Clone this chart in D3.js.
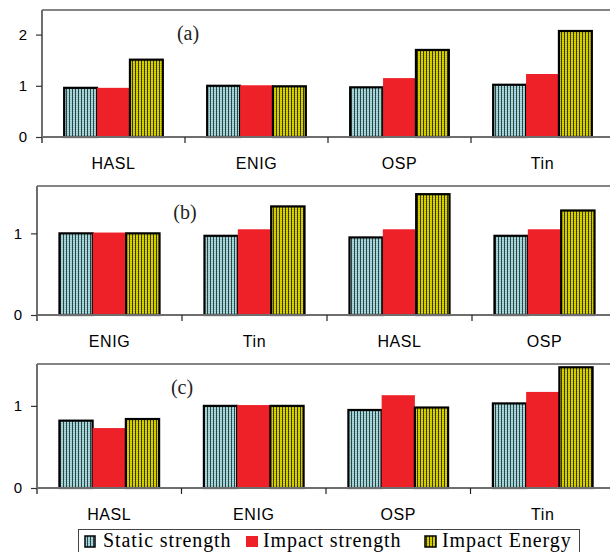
<!DOCTYPE html>
<html>
<head>
<meta charset="utf-8">
<script src="https://cdn.jsdelivr.net/npm/d3@7"></script>
<style>
  html, body { margin: 0; padding: 0; background: #fff; }
  svg { display: block; }
</style>
</head>
<body>
<div id="chart"></div>
<script>
// Series names
const seriesNames = ["Static strength", "Impact strength", "Impact Energy"];

// Panel (a)
const catsA = ["HASL", "ENIG", "OSP", "Tin"];
const staticA = [0.96, 1.00, 0.97, 1.02];
const impactA = [0.96, 1.01, 1.15, 1.23];
const energyA = [1.51, 0.99, 1.70, 2.07];
const ticksA = [0, 1, 2];

// Panel (b)
const catsB = ["ENIG", "Tin", "HASL", "OSP"];
const staticB = [1.00, 0.97, 0.95, 0.97];
const impactB = [1.01, 1.05, 1.05, 1.05];
const energyB = [1.00, 1.33, 1.48, 1.28];
const ticksB = [0, 1];

// Panel (c)
const catsC = ["HASL", "ENIG", "OSP", "Tin"];
const staticC = [0.82, 1.00, 0.95, 1.03];
const impactC = [0.73, 1.01, 1.13, 1.17];
const energyC = [0.84, 1.00, 0.98, 1.47];
const ticksC = [0, 1];

const W = 610, H = 552;
const svg = d3.select("#chart").append("svg")
  .attr("width", W).attr("height", H);

// Striped fills for the outlined bars
const defs = svg.append("defs");
function stripes(id, bg, fg) {
  const p = defs.append("pattern").attr("id", id)
    .attr("patternUnits", "userSpaceOnUse")
    .attr("width", 3).attr("height", 2);
  p.append("rect").attr("width", 3).attr("height", 2).attr("fill", bg);
  p.append("rect").attr("x", 0).attr("width", 1).attr("height", 2).attr("fill", fg);
  p.append("rect").attr("x", 1).attr("y", 1).attr("width", 2).attr("height", 1)
    .attr("fill", fg).attr("opacity", 0.15);
}
stripes("patStatic", "#a9dde0", "#2c4446");
stripes("patEnergy", "#dcd800", "#3a3800");

const fills = ["url(#patStatic)", "#ee2129", "url(#patEnergy)"];
const strokes = ["#000", "none", "#000"];

function panel(cfg) {
  const { cats, series, ticks, yMax, left, right, top, base, label, labelX, labelY } = cfg;
  const g = svg.append("g");

  const x = d3.scaleBand().domain(cats).range([left, right]).padding(0);
  const xs = d3.scaleBand().domain([0, 1, 2])
    .range([x.bandwidth() * 0.155, x.bandwidth() * 0.845]).padding(0);
  const y = d3.scaleLinear().domain([0, yMax]).range([base, top]);

  // frame: top line
  g.append("line").attr("x1", left).attr("x2", W).attr("y1", top).attr("y2", top)
    .attr("stroke", "#858585").attr("stroke-width", 2);

  // bars: static, impact, energy
  const rows = cats.map((c, i) => ({ cat: c, vals: series.map(s => s[i]) }));
  [0, 1, 2].forEach(k => {
    g.selectAll(null).data(rows).enter().append("rect")
      .attr("x", d => x(d.cat) + xs(k))
      .attr("y", d => y(d.vals[k]))
      .attr("width", xs.bandwidth())
      .attr("height", d => y(0) - y(d.vals[k]))
      .attr("fill", fills[k])
      .attr("stroke", strokes[k])
      .attr("stroke-width", 2.2);
  });

  // y axis
  const yAxis = d3.axisLeft(y).tickValues(ticks).tickFormat(d3.format("d"))
    .tickSize(6).tickPadding(9);
  const ya = g.append("g").attr("transform", `translate(${left},0)`).call(yAxis);
  ya.select(".domain").attr("d", `M0,${top}V${base + 6}`)
    .attr("stroke", "#6e6e6e").attr("stroke-width", 2);
  ya.selectAll(".tick line").attr("stroke", "#333").attr("stroke-width", 1.2);
  ya.selectAll("text").attr("font-family", "Liberation Sans, Arial, sans-serif")
    .attr("font-size", 15).attr("fill", "#000");

  // x axis with ticks on category boundaries
  g.append("line").attr("x1", left).attr("x2", W).attr("y1", base).attr("y2", base)
    .attr("stroke", "#6e6e6e").attr("stroke-width", 2);
  g.selectAll(null).data(cats.slice(1)).enter().append("line")
    .attr("x1", d => x(d)).attr("x2", d => x(d))
    .attr("y1", base).attr("y2", base + 6)
    .attr("stroke", "#222").attr("stroke-width", 1.2);
  g.selectAll(null).data(cats).enter().append("text")
    .attr("x", d => x(d) + x.bandwidth() / 2)
    .attr("y", base + 32)
    .attr("text-anchor", "middle")
    .attr("font-family", "Liberation Sans, Arial, sans-serif")
    .attr("font-size", 16).attr("letter-spacing", 0.6)
    .text(d => d);

  g.append("text").attr("x", labelX).attr("y", labelY)
    .attr("text-anchor", "middle")
    .attr("font-family", "Liberation Serif, Times New Roman, serif")
    .attr("font-size", 20).attr("fill", "#222")
    .text(label);
}

panel({ cats: catsA, series: [staticA, impactA, energyA], ticks: ticksA, yMax: 2.48,
  left: 42, right: 614, top: 10, base: 137, label: "(a)", labelX: 188, labelY: 40 });
panel({ cats: catsB, series: [staticB, impactB, energyB], ticks: ticksB, yMax: 1.58,
  left: 37, right: 617, top: 186, base: 315, label: "(b)", labelX: 185, labelY: 219 });
panel({ cats: catsC, series: [staticC, impactC, energyC], ticks: ticksC, yMax: 1.51,
  left: 37, right: 615, top: 364, base: 488, label: "(c)", labelX: 182, labelY: 394 });

// Legend
const lg = svg.append("g");
lg.append("rect").attr("x", 78.5).attr("y", 529.5).attr("width", 501).attr("height", 40)
  .attr("fill", "#fff").attr("stroke", "#444").attr("stroke-width", 1);
const legendItems = [
  { name: seriesNames[0], sx: 85, sw: 10, tx: 103 },
  { name: seriesNames[1], sx: 246, sw: 12, tx: 263 },
  { name: seriesNames[2], sx: 425, sw: 11, tx: 442 }
];
legendItems.forEach((it, i) => {
  lg.append("rect").attr("x", it.sx).attr("y", 536).attr("width", it.sw).attr("height", 11)
    .attr("fill", fills[i]).attr("stroke", i === 1 ? "none" : "#000").attr("stroke-width", 1.5);
  lg.append("text").attr("x", it.tx).attr("y", 547)
    .attr("font-family", "Liberation Serif, Times New Roman, serif")
    .attr("font-size", 20).attr("letter-spacing", 0.9)
    .text(it.name);
});
</script>
</body>
</html>
